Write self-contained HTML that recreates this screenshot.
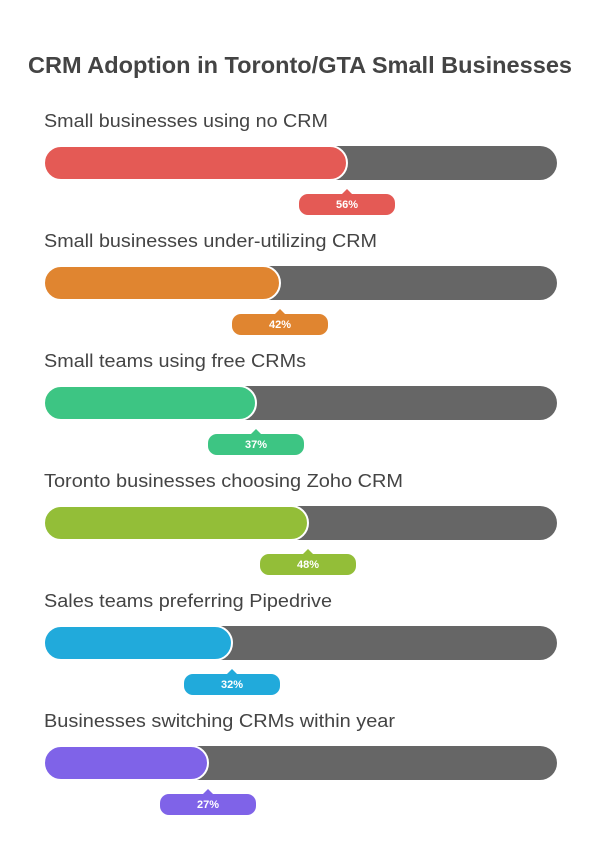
<!DOCTYPE html>
<html><head><meta charset="utf-8"><style>html,body{margin:0;padding:0;background:#fff}svg{display:block}</style></head>
<body>
<svg width="600" height="865" viewBox="0 0 600 865" xmlns="http://www.w3.org/2000/svg" font-family="Liberation Sans, Arial, sans-serif">
<text x="300" y="73" text-anchor="middle" font-size="23" font-weight="bold" fill="#444" textLength="544" lengthAdjust="spacingAndGlyphs">CRM Adoption in Toronto/GTA Small Businesses</text>
<g id="rows"></g>
<g>
<text x="44" y="127" font-size="18" fill="#444" textLength="284" lengthAdjust="spacingAndGlyphs">Small businesses using no CRM</text>
<rect x="44" y="146" width="513" height="34" rx="17" fill="#666"/>
<rect x="44" y="146" width="303" height="34" rx="17" fill="#E45A55" stroke="#fff" stroke-width="2"/>
<path d="M342 194 L347 189 L352 194 Z" fill="#E45A55"/>
<rect x="299" y="194" width="96" height="21" rx="9" fill="#E45A55"/>
<text x="347" y="208" text-anchor="middle" font-size="11" font-weight="bold" fill="#fff">56%</text>
</g>
<g transform="translate(0,120)">
<text x="44" y="127" font-size="18" fill="#444" textLength="333" lengthAdjust="spacingAndGlyphs">Small businesses under-utilizing CRM</text>
<rect x="44" y="146" width="513" height="34" rx="17" fill="#666"/>
<rect x="44" y="146" width="236" height="34" rx="17" fill="#E08530" stroke="#fff" stroke-width="2"/>
<path d="M275 194 L280 189 L285 194 Z" fill="#E08530"/>
<rect x="232" y="194" width="96" height="21" rx="9" fill="#E08530"/>
<text x="280" y="208" text-anchor="middle" font-size="11" font-weight="bold" fill="#fff">42%</text>
</g>
<g transform="translate(0,240)">
<text x="44" y="127" font-size="18" fill="#444" textLength="262" lengthAdjust="spacingAndGlyphs">Small teams using free CRMs</text>
<rect x="44" y="146" width="513" height="34" rx="17" fill="#666"/>
<rect x="44" y="146" width="212" height="34" rx="17" fill="#3DC583" stroke="#fff" stroke-width="2"/>
<path d="M251 194 L256 189 L261 194 Z" fill="#3DC583"/>
<rect x="208" y="194" width="96" height="21" rx="9" fill="#3DC583"/>
<text x="256" y="208" text-anchor="middle" font-size="11" font-weight="bold" fill="#fff">37%</text>
</g>
<g transform="translate(0,360)">
<text x="44" y="127" font-size="18" fill="#444" textLength="359" lengthAdjust="spacingAndGlyphs">Toronto businesses choosing Zoho CRM</text>
<rect x="44" y="146" width="513" height="34" rx="17" fill="#666"/>
<rect x="44" y="146" width="264" height="34" rx="17" fill="#93BE38" stroke="#fff" stroke-width="2"/>
<path d="M303 194 L308 189 L313 194 Z" fill="#93BE38"/>
<rect x="260" y="194" width="96" height="21" rx="9" fill="#93BE38"/>
<text x="308" y="208" text-anchor="middle" font-size="11" font-weight="bold" fill="#fff">48%</text>
</g>
<g transform="translate(0,480)">
<text x="44" y="127" font-size="18" fill="#444" textLength="288" lengthAdjust="spacingAndGlyphs">Sales teams preferring Pipedrive</text>
<rect x="44" y="146" width="513" height="34" rx="17" fill="#666"/>
<rect x="44" y="146" width="188" height="34" rx="17" fill="#21AADB" stroke="#fff" stroke-width="2"/>
<path d="M227 194 L232 189 L237 194 Z" fill="#21AADB"/>
<rect x="184" y="194" width="96" height="21" rx="9" fill="#21AADB"/>
<text x="232" y="208" text-anchor="middle" font-size="11" font-weight="bold" fill="#fff">32%</text>
</g>
<g transform="translate(0,600)">
<text x="44" y="127" font-size="18" fill="#444" textLength="351" lengthAdjust="spacingAndGlyphs">Businesses switching CRMs within year</text>
<rect x="44" y="146" width="513" height="34" rx="17" fill="#666"/>
<rect x="44" y="146" width="164" height="34" rx="17" fill="#7F63E8" stroke="#fff" stroke-width="2"/>
<path d="M203 194 L208 189 L213 194 Z" fill="#7F63E8"/>
<rect x="160" y="194" width="96" height="21" rx="9" fill="#7F63E8"/>
<text x="208" y="208" text-anchor="middle" font-size="11" font-weight="bold" fill="#fff">27%</text>
</g>
</svg>
</body></html>
